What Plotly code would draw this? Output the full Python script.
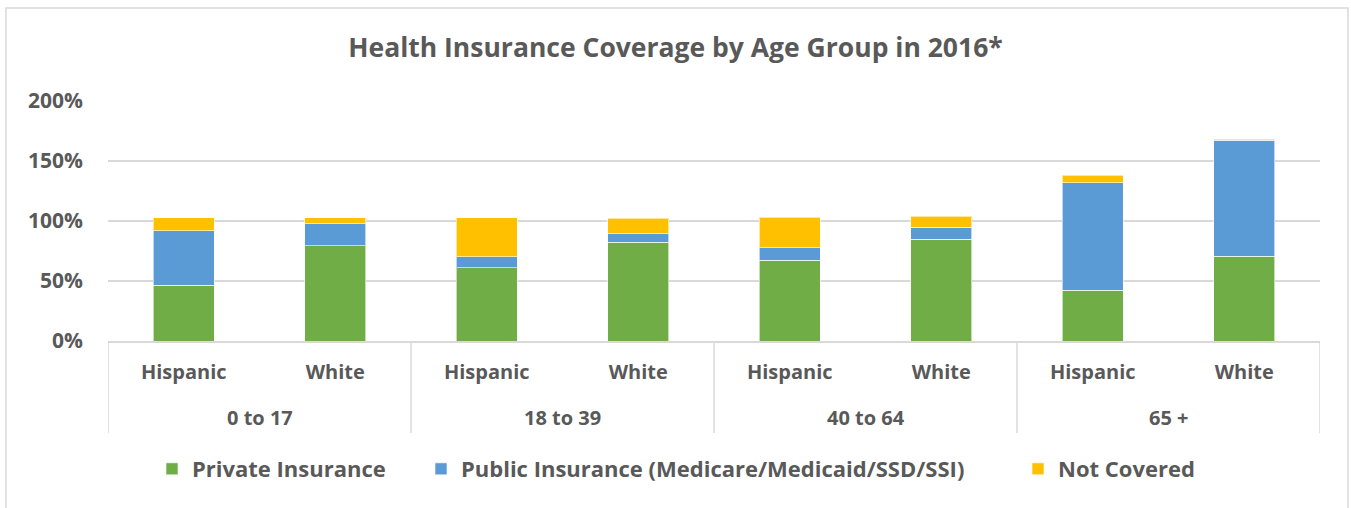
import plotly.graph_objects as go

age_groups = ["0 to 17", "18 to 39", "40 to 64", "65 +"]
ethnicity = ["Hispanic", "White", "Hispanic", "White", "Hispanic", "White", "Hispanic", "White"]
private_ins = [46.4, 79.2, 61.1, 82.2, 67.2, 84.7, 42.5, 70.6]
public_ins = [45.3, 18.6, 9.2, 7.2, 10.6, 10.0, 89.2, 96.9]
not_covered = [11.1, 5.0, 32.5, 12.8, 25.5, 9.2, 6.6, 0.8]
y_ticks = [0, 50, 100, 150, 200]
y_tick_labels = ["0%", "50%", "100%", "150%", "200%"]

series_names = ["Private Insurance", "Public Insurance (Medicare/Medicaid/SSD/SSI)", "Not Covered"]
series_values = [private_ins, public_ins, not_covered]
series_colors = ["#70AD47", "#5B9BD5", "#FFC000"]
legend_text_x = [192, 461, 1058]

FONT = "'Open Sans', Lato, sans-serif"
GRAY = "#595959"
LINE = "#D9D9D9"

L, R, T, B = 108, 31, 101, 167
W, H = 1351, 508
pw, ph = W - L - R, H - T - B


def py(pixel_y):
    return (T + ph - pixel_y) / ph


def px(pixel_x):
    return (pixel_x - L) / pw


x_pos = list(range(len(ethnicity)))

fig = go.Figure()
legend_ids = ["legend", "legend2", "legend3"]
for name, vals, color, lid in zip(series_names, series_values, series_colors, legend_ids):
    fig.add_trace(go.Bar(
        x=x_pos, y=vals, name=name, legend=lid,
        marker=dict(color=color, line=dict(color="rgba(255,255,255,0.6)", width=1)),
        hoverinfo="skip",
    ))

legend_style = dict(orientation="h", xanchor="left", y=py(469), yanchor="middle",
                    font=dict(size=22, color=GRAY, family=FONT, weight="bold"),
                    bgcolor="rgba(0,0,0,0)")

fig.update_layout(
    width=W, height=H,
    barmode="stack", bargap=0.6,
    paper_bgcolor="white", plot_bgcolor="white",
    margin=dict(l=L, r=R, t=T, b=B),
    font=dict(family=FONT, color=GRAY, size=20),
    title=dict(text="<b>Health Insurance Coverage by Age Group in 2016*</b>",
               x=0.5, xref="container", xanchor="center",
               y=1 - 48 / H, yanchor="middle",
               font=dict(size=26.5, color=GRAY, family=FONT)),
    showlegend=True,
    legend=dict(x=px(legend_text_x[0] - 40), **legend_style),
    legend2=dict(x=px(legend_text_x[1] - 40), **legend_style),
    legend3=dict(x=px(legend_text_x[2] - 40), **legend_style),
    xaxis=dict(range=[-0.5, len(ethnicity) - 0.5], tickvals=x_pos, ticktext=ethnicity,
               showline=True, linecolor=LINE, linewidth=1.5, showgrid=False, zeroline=False,
               tickfont=dict(size=20, color=GRAY, family=FONT, weight="bold"),
               ticks="", ticklabelstandoff=12),
    yaxis=dict(range=[0, 200], tickvals=y_ticks, ticktext=y_tick_labels,
               showgrid=True, gridcolor=LINE, gridwidth=1.5, zeroline=False,
               tickfont=dict(size=21, color=GRAY, family=FONT, weight="bold"),
               ticklabelstandoff=24),
)

# group labels and dividers on the category axis
for i, grp in enumerate(age_groups):
    fig.add_annotation(x=2 * i + 0.5, xref="x", y=py(417), yref="paper",
                       text="<b>%s</b>" % grp, showarrow=False, yanchor="middle",
                       font=dict(size=20, color=GRAY, family=FONT))
for i in range(len(age_groups) + 1):
    fig.add_shape(type="line", xref="x", yref="paper", x0=2 * i - 0.5, x1=2 * i - 0.5,
                  y0=0, y1=py(433), line=dict(color=LINE, width=1.5))

# chart outer border
fig.add_shape(type="rect", xref="paper", yref="paper",
              x0=px(6), x1=px(1348), y0=py(H + 5), y1=py(8),
              line=dict(color=LINE, width=1.5), fillcolor="rgba(0,0,0,0)", layer="below")

fig.write_html("out.html", config={"displayModeBar": False})
with open("out.html", encoding="utf-8") as f:
    html = f.read()
html = html.replace("<body>", '<body style="margin:0;padding:0;overflow:hidden">', 1)
with open("out.html", "w", encoding="utf-8") as f:
    f.write(html)
